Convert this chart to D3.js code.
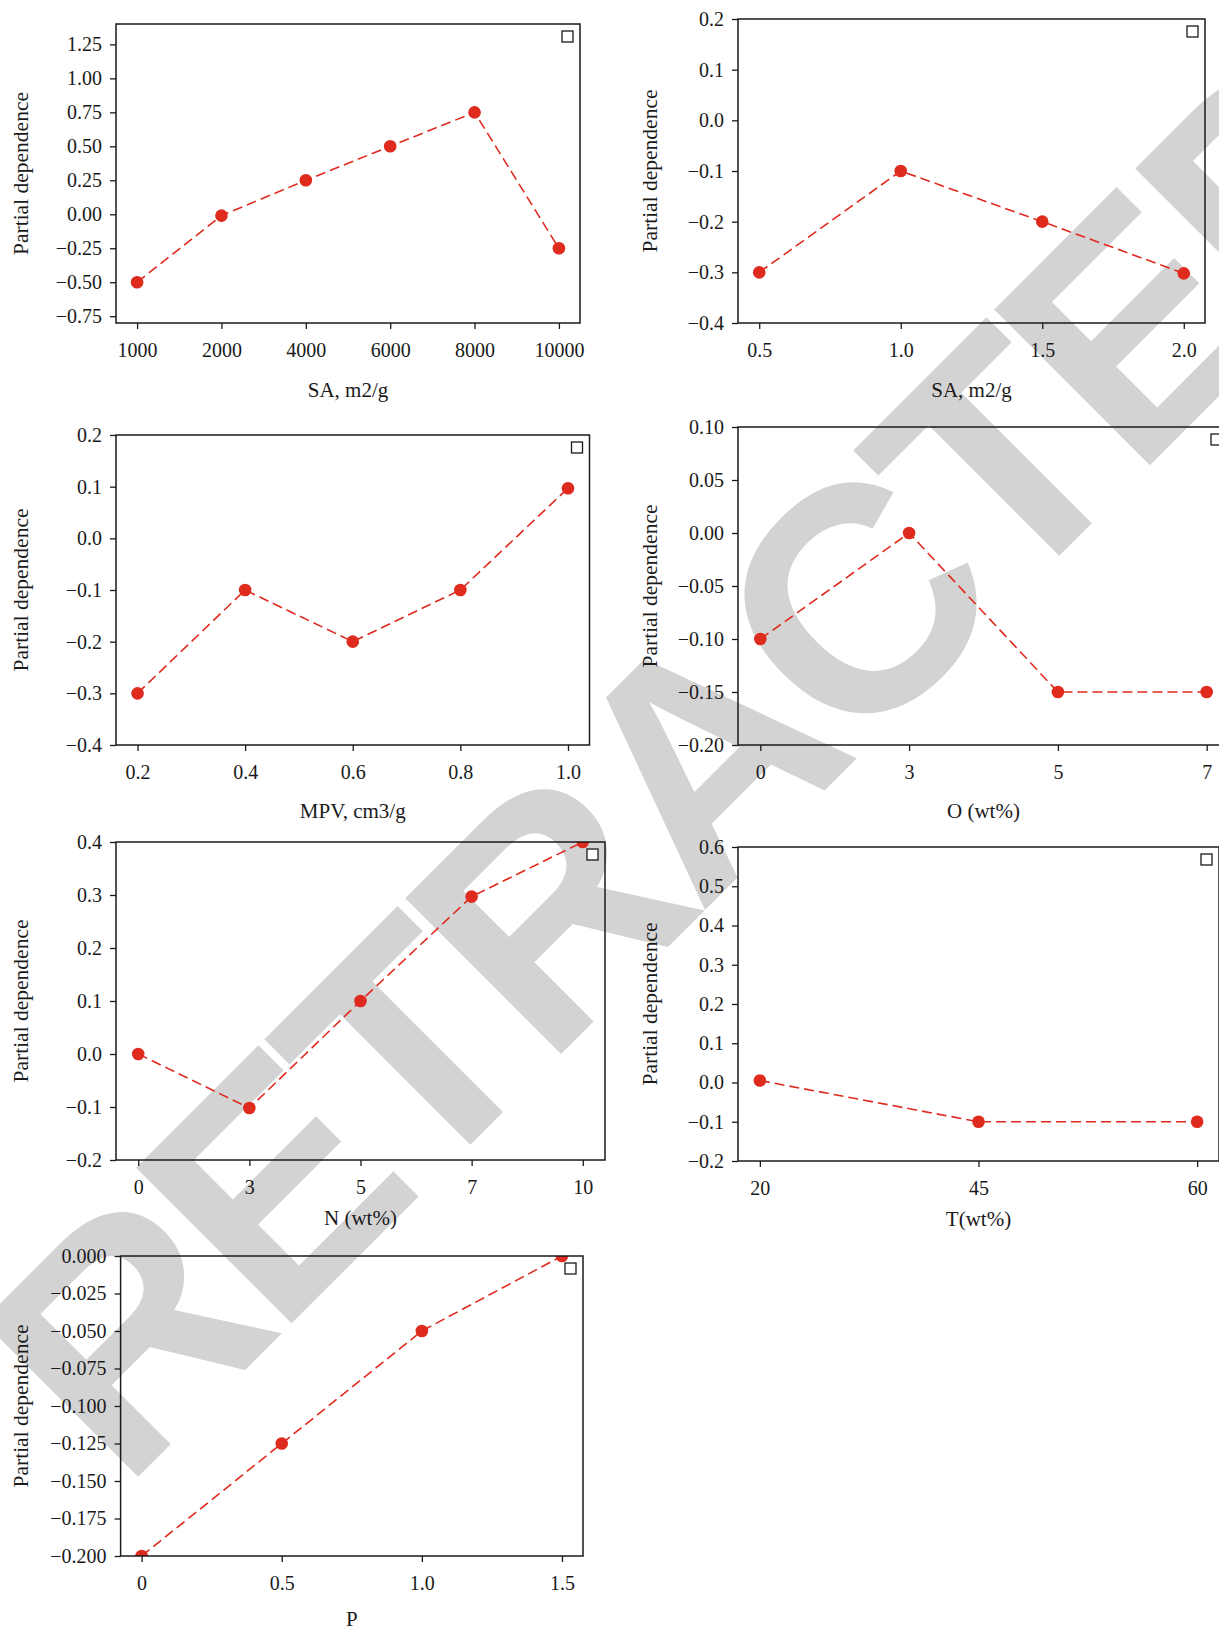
<!DOCTYPE html>
<html>
<head>
<meta charset="utf-8">
<script src="https://cdn.jsdelivr.net/npm/d3@7"></script>
<style>
  html, body { margin: 0; padding: 0; background: #ffffff; }
  svg { display: block; }
</style>
</head>
<body>
<div id="chart"></div>
<script>
// ---------------- Data ----------------
const yLabel = "Partial dependence";

const saCats = ["1000", "2000", "4000", "6000", "8000", "10000"];
const saVals = [-0.5, -0.01, 0.25, 0.5, 0.75, -0.25];
const saTicks = [1.25, 1.0, 0.75, 0.5, 0.25, 0.0, -0.25, -0.5, -0.75];

const sa2Cats = ["0.5", "1.0", "1.5", "2.0"];
const sa2Vals = [-0.3, -0.1, -0.2, -0.302];
const sa2Ticks = [0.2, 0.1, 0.0, -0.1, -0.2, -0.3, -0.4];

const mpvCats = ["0.2", "0.4", "0.6", "0.8", "1.0"];
const mpvVals = [-0.3, -0.1, -0.2, -0.1, 0.097];
const mpvTicks = [0.2, 0.1, 0.0, -0.1, -0.2, -0.3, -0.4];

const oCats = ["0", "3", "5", "7"];
const oVals = [-0.1, 0.0, -0.15, -0.15];
const oTicks = [0.10, 0.05, 0.0, -0.05, -0.10, -0.15, -0.20];

const nCats = ["0", "3", "5", "7", "10"];
const nVals = [0.0, -0.102, 0.1, 0.297, 0.4];
const nTicks = [0.4, 0.3, 0.2, 0.1, 0.0, -0.1, -0.2];

const tCats = ["20", "45", "60"];
const tVals = [0.005, -0.1, -0.1];
const tTicks = [0.6, 0.5, 0.4, 0.3, 0.2, 0.1, 0.0, -0.1, -0.2];

const pCats = ["0", "0.5", "1.0", "1.5"];
const pVals = [-0.2, -0.125, -0.05, 0.0];
const pTicks = [0.0, -0.025, -0.05, -0.075, -0.1, -0.125, -0.15, -0.175, -0.2];

// ---------------- Panels (layout) ----------------
const panels = [
  { cats: saCats,  vals: saVals,  ticks: saTicks,  dom: [-0.8, 1.4],  fmt: ".2f", xlab: "SA, m2/g",   box: [116, 24, 580, 323],    xlabY: 397,  ylabX: 28 },
  { cats: sa2Cats, vals: sa2Vals, ticks: sa2Ticks, dom: [-0.4, 0.2],  fmt: ".1f", xlab: "SA, m2/g",   box: [738, 19, 1205, 323],   xlabY: 397,  ylabX: 657 },
  { cats: mpvCats, vals: mpvVals, ticks: mpvTicks, dom: [-0.4, 0.2],  fmt: ".1f", xlab: "MPV, cm3/g", box: [116, 435, 589.5, 745], xlabY: 818,  ylabX: 28 },
  { cats: oCats,   vals: oVals,   ticks: oTicks,   dom: [-0.2, 0.1],  fmt: ".2f", xlab: "O (wt%)",    box: [738, 427, 1229, 745],  xlabY: 818,  ylabX: 657 },
  { cats: nCats,   vals: nVals,   ticks: nTicks,   dom: [-0.2, 0.4],  fmt: ".1f", xlab: "N (wt%)",    box: [116, 842, 605, 1160],  xlabY: 1225, ylabX: 28 },
  { cats: tCats,   vals: tVals,   ticks: tTicks,   dom: [-0.2, 0.6],  fmt: ".1f", xlab: "T(wt%)",     box: [738, 847, 1219, 1161], xlabY: 1226, ylabX: 657 },
  { cats: pCats,   vals: pVals,   ticks: pTicks,   dom: [-0.2, 0.0],  fmt: ".3f", xlab: "P",          box: [120.6, 1256, 583, 1556], xlabY: 1626, ylabX: 28 }
];

const W = 1219, H = 1632;
const RED = "#df2a1e";
const INK = "#1a1a1a";
const SERIF = "'Liberation Serif', 'DejaVu Serif', serif";

const svg = d3.select("#chart").append("svg")
  .attr("width", W).attr("height", H)
  .attr("viewBox", `0 0 ${W} ${H}`);

svg.append("rect").attr("width", W).attr("height", H).attr("fill", "#ffffff");

// Watermark (drawn behind the transparent axes)
svg.append("text")
  .attr("transform", "translate(123,1492) rotate(-45)")
  .attr("font-family", "'Liberation Sans', Arial, sans-serif")
  .attr("font-weight", "bold")
  .attr("font-size", 320)
  .attr("letter-spacing", -14)
  .attr("fill", "#d3d3d3")
  .text("RETRACTED");

panels.forEach((p, i) => {
  const [x0, y0, x1, y1] = p.box;
  const n = p.cats.length;
  const x = d3.scalePoint().domain(p.cats).range([x0, x1]).padding(0.05 * (n - 1));
  const y = d3.scaleLinear().domain(p.dom).range([y1, y0]);

  const g = svg.append("g");

  const clipId = "clip" + i;
  svg.append("defs").append("clipPath").attr("id", clipId)
    .append("rect").attr("x", x0).attr("y", y0).attr("width", x1 - x0).attr("height", y1 - y0);

  // Y axis
  const yAxis = g.append("g")
    .attr("transform", `translate(${x0},0)`)
    .call(d3.axisLeft(y).tickValues(p.ticks).tickFormat(d3.format(p.fmt)).tickSize(6).tickPadding(8));
  yAxis.select(".domain").remove();
  yAxis.selectAll("line").attr("stroke", INK).attr("stroke-width", 1.3);
  yAxis.selectAll("text").attr("font-family", SERIF).attr("font-size", 20).attr("fill", INK);

  // X axis
  const xAxis = g.append("g")
    .attr("transform", `translate(0,${y1})`)
    .call(d3.axisBottom(x).tickSize(6).tickPadding(14));
  xAxis.select(".domain").remove();
  xAxis.selectAll("line").attr("stroke", INK).attr("stroke-width", 1.3);
  xAxis.selectAll("text").attr("font-family", SERIF).attr("font-size", 20).attr("fill", INK);

  // Data
  const data = p.cats.map((c, j) => ({ c, v: p.vals[j] }));
  const plot = g.append("g").attr("clip-path", `url(#${clipId})`);
  plot.append("path")
    .datum(data)
    .attr("fill", "none")
    .attr("stroke", RED)
    .attr("stroke-width", 1.6)
    .attr("stroke-dasharray", "10,5")
    .attr("d", d3.line().x(d => x(d.c)).y(d => y(d.v)));
  plot.selectAll("circle").data(data).enter().append("circle")
    .attr("cx", d => x(d.c)).attr("cy", d => y(d.v)).attr("r", 6.3)
    .attr("fill", RED);

  // Frame
  g.append("rect")
    .attr("x", x0).attr("y", y0).attr("width", x1 - x0).attr("height", y1 - y0)
    .attr("fill", "none").attr("stroke", INK).attr("stroke-width", 1.5);

  // Empty legend box
  g.append("rect")
    .attr("x", x1 - 7 - 11).attr("y", y0 + 7).attr("width", 11).attr("height", 11)
    .attr("fill", "#ffffff").attr("stroke", INK).attr("stroke-width", 1.3);

  // Axis labels
  g.append("text")
    .attr("x", (x0 + x1) / 2).attr("y", p.xlabY)
    .attr("text-anchor", "middle")
    .attr("font-family", SERIF).attr("font-size", 21).attr("fill", INK)
    .text(p.xlab);
  g.append("text")
    .attr("transform", `translate(${p.ylabX},${(y0 + y1) / 2}) rotate(-90)`)
    .attr("text-anchor", "middle")
    .attr("font-family", SERIF).attr("font-size", 21.5).attr("fill", INK)
    .text(yLabel);
});
</script>
</body>
</html>
